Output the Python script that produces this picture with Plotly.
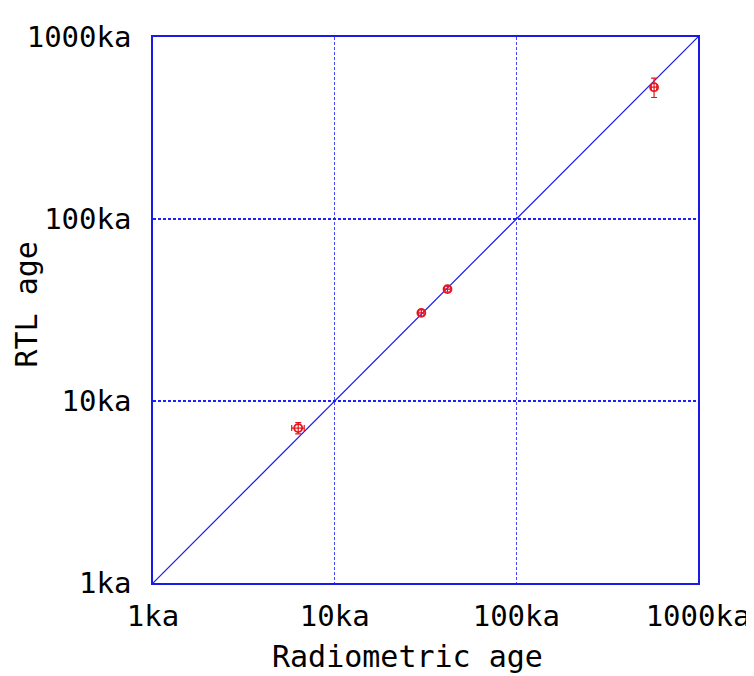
import plotly.graph_objects as go

radiometric_age = [6.3, 30.0, 41.8, 573.0]
radiometric_err = [0.5, 1.0, 1.5, 20.0]
rtl_age = [7.1, 30.5, 41.2, 530.0]
rtl_err = [0.5, 1.2, 1.5, 65.0]
tick_vals = [1, 10, 100, 1000]
tick_text = ["1ka", "10ka", "100ka", "1000ka"]
line_ends = [1, 1000]

FONT = "DejaVu Sans Mono"
BLUE = "#1a1ae6"
RED = "#e8141e"

fig = go.Figure()
fig.add_trace(go.Scatter(
    x=line_ends, y=line_ends, mode="lines",
    line=dict(color=BLUE, width=1.2), hoverinfo="skip", showlegend=False))
fig.add_trace(go.Scatter(
    x=radiometric_age, y=rtl_age, mode="markers",
    marker=dict(symbol="circle-open", size=8, color=RED, line=dict(width=1.8, color=RED)),
    error_x=dict(type="data", array=radiometric_err, color=RED, thickness=1.2, width=3),
    error_y=dict(type="data", array=rtl_err, color=RED, thickness=1.2, width=3),
    showlegend=False))

axis_common = dict(
    type="log", range=[0, 3], tickvals=tick_vals, ticktext=tick_text,
    showline=True, linecolor=BLUE, linewidth=1.5, mirror=True,
    showgrid=True, griddash="3px,2px",
    ticks="", zeroline=False, automargin=False,
    tickfont=dict(family=FONT, size=29, color="black"),
)

fig.update_layout(
    width=746, height=668,
    margin=dict(l=145, r=56, t=29, b=93),
    plot_bgcolor="white", paper_bgcolor="white",
    xaxis=dict(**axis_common, gridcolor="#4646ff", gridwidth=1, ticklabelstandoff=6),
    yaxis=dict(**axis_common, gridcolor="#2020ff", gridwidth=1.6, ticklabelstandoff=14),
    annotations=[
        dict(text="Radiometric age", xref="paper", yref="paper", x=0.467, y=0,
             xanchor="center", yanchor="top", yshift=-54, showarrow=False,
             font=dict(family=FONT, size=30, color="black")),
        dict(text="RTL age", xref="paper", yref="paper", x=0, y=0.51,
             xanchor="center", yanchor="middle", xshift=-126, textangle=-90,
             showarrow=False, font=dict(family=FONT, size=30, color="black")),
    ],
)

fig.write_html("out.html")
